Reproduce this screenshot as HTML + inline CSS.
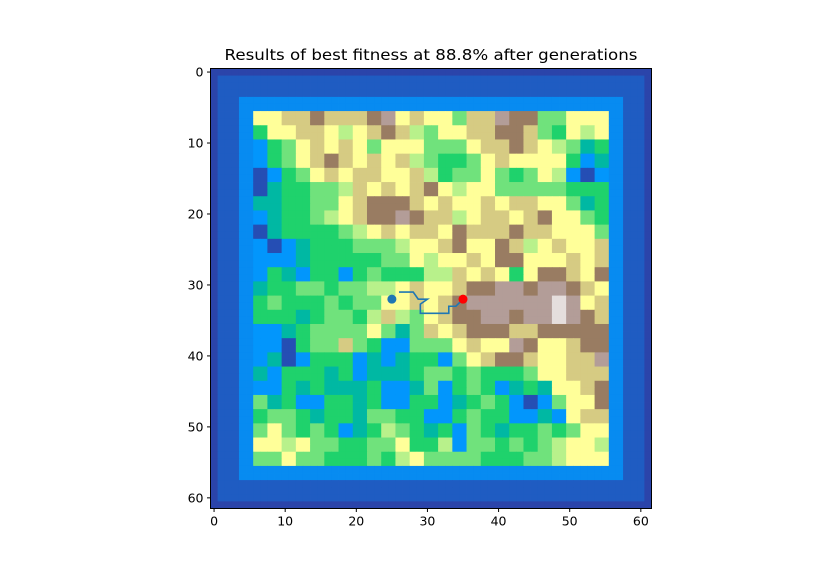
<!DOCTYPE html>
<html><head><meta charset="utf-8"><style>
body{margin:0;background:#fff;}
svg text{font-family:"DejaVu Sans","Liberation Sans",sans-serif;}
</style></head><body>
<svg id="chart" width="840" height="571" xmlns="http://www.w3.org/2000/svg">
<rect width="840" height="571" fill="#fff"/>
<text x="431" y="60" font-size="15" text-anchor="middle" textLength="413" lengthAdjust="spacingAndGlyphs">Results of best fitness at 88.8% after generations</text>
<g id="cells"></g>
<g id="overlay"></g>
<rect x="210.5" y="68.5" width="441" height="440" fill="none" stroke="#000" stroke-width="1"/>
<g id="axes"></g>
</svg>
<script>
// interior terrain levels, 25x25 blocks (each block = 2x2 grid cells, grid cells 6..55)
const blockRows = [
"6677877789676647798844666",
"3667765678754667788743656",
"1346767646664446778765423",
"1346787676754334676666312",
"0134676776675344643465101",
"0233445767678656644444333",
"2233446788876766767766423",
"1233456788987756776786643",
"0233334567677687778776664",
"1012333444566786687567667",
"1112333334465667688666767",
"1321331343335576763688768",
"2334434455676678899899876",
"343334344667678999999W967",
"333234435754678899899W987",
"1123444464247678887788888",
"1103447431144467669866788",
"1201333121233146788766779",
"2133323122234434333466777",
"1132322231124134312326678",
"4231133231133123431014668",
"3443233244331134331121677",
"4643431235432314323343466",
"6656443344633514434345665",
"4464433343564444333445666"
];
const levelValues = {"0":0.04,"1":0.145,"2":0.21,"3":0.28,"4":0.36,"5":0.43,"6":0.5,"7":0.58,"8":0.7,"9":0.85,"W":0.95};
const borderValues = [0.025,0.06,0.06,0.06,0.13,0.13]; // ring 0..5
const pathX = [26,28,28.7,30,29,29,33,33,34,35];
const pathY = [31,31,32,32,32.7,34,34,33,33,32];
const startPoint = [25,32];
const endPoint = [35,32];
const xTicks = [0,10,20,30,40,50,60];
const yTicks = [0,10,20,30,40,50,60];

const N = 62, x0 = 210.5, y0 = 68.5, W = 441, H = 440;
const sx = v => x0 + (v + 0.5) * W / N;
const sy = v => y0 + (v + 0.5) * H / N;
const stops = [[0,[0.2,0.2,0.6]],[0.15,[0,0.6,1]],[0.25,[0,0.8,0.4]],[0.5,[1,1,0.6]],[0.75,[0.5,0.36,0.33]],[1,[1,1,1]]];
function terrain(v){
  for(let i=0;i<stops.length-1;i++){
    const [a,ca]=stops[i],[b,cb]=stops[i+1];
    if(v<=b){const t=(v-a)/(b-a);return 'rgb('+ca.map((c,k)=>Math.round(255*(c+(cb[k]-c)*t))).join(',')+')';}
  }
  return '#fff';
}
function cellValue(r,c){
  const ring=Math.min(r,c,N-1-r,N-1-c);
  if(ring<6) return borderValues[ring];
  const br=Math.floor((r-6)/2), bc=Math.floor((c-6)/2);
  return levelValues[blockRows[br][bc]];
}
const NS='http://www.w3.org/2000/svg';
const cg=document.getElementById('cells');
const cw=W/N, ch=H/N;
for(let r=0;r<N;r++)for(let c=0;c<N;c++){
  const el=document.createElementNS(NS,'rect');
  
  
  el.setAttribute('x',(x0+c*cw).toFixed(2));el.setAttribute('y',(y0+r*ch).toFixed(2));
  el.setAttribute('width',(cw+0.4).toFixed(2));el.setAttribute('height',(ch+0.4).toFixed(2));
  el.setAttribute('fill',terrain(cellValue(r,c)));
  cg.appendChild(el);
}
const og=document.getElementById('overlay');
const pl=document.createElementNS(NS,'polyline');


pl.setAttribute('points',pathX.map((x,i)=>sx(x)+','+sy(pathY[i])).join(' '));
pl.setAttribute('fill','none');pl.setAttribute('stroke','#1f77b4');pl.setAttribute('stroke-width','1.6');
og.appendChild(pl);
const s=document.createElementNS(NS,'circle');


s.setAttribute('cx',sx(startPoint[0]));s.setAttribute('cy',sy(startPoint[1]));s.setAttribute('r',4.5);s.setAttribute('fill','#1f77b4');
og.appendChild(s);
const e=document.createElementNS(NS,'circle');


e.setAttribute('cx',sx(endPoint[0]));e.setAttribute('cy',sy(endPoint[1]));e.setAttribute('r',4.5);e.setAttribute('fill','#ff0000');
og.appendChild(e);
const ag=document.getElementById('axes');
xTicks.forEach(t=>{
  const l=document.createElementNS(NS,'line');
  
  
  l.setAttribute('x1',sx(t));l.setAttribute('x2',sx(t));l.setAttribute('y1',y0+H);l.setAttribute('y2',y0+H+3.5);l.setAttribute('stroke','#000');
  ag.appendChild(l);
  const tx=document.createElementNS(NS,'text');
  
  
  tx.setAttribute('x',sx(t));tx.setAttribute('y',y0+H+17);tx.setAttribute('font-size','12.5');tx.setAttribute('text-anchor','middle');
  tx.textContent=t;ag.appendChild(tx);
});
yTicks.forEach(t=>{
  const l=document.createElementNS(NS,'line');
  
  
  l.setAttribute('x1',x0-3.5);l.setAttribute('x2',x0);l.setAttribute('y1',sy(t));l.setAttribute('y2',sy(t));l.setAttribute('stroke','#000');
  ag.appendChild(l);
  const tx=document.createElementNS(NS,'text');
  
  
  tx.setAttribute('x',x0-7);tx.setAttribute('y',sy(t)+4.5);tx.setAttribute('font-size','12.5');tx.setAttribute('text-anchor','end');
  tx.textContent=t;ag.appendChild(tx);
});
</script>
</body></html>
